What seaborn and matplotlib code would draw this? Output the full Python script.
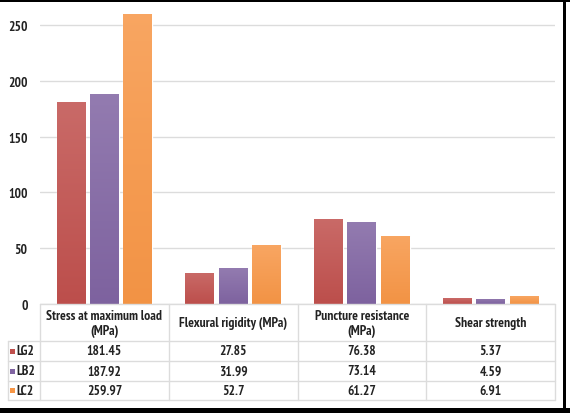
import numpy as np
import pandas as pd
import matplotlib
matplotlib.use("Agg")
import matplotlib.pyplot as plt
import matplotlib.colors as mcolors
import matplotlib.font_manager as fm
from matplotlib.textpath import TextPath
from matplotlib.patches import Rectangle
import seaborn as sns

categories = ["Stress at maximum load\n(MPa)", "Flexural rigidity (MPa)",
              "Puncture resistance\n(MPa)", "Shear strength"]
series = ["LG2", "LB2", "LC2"]
LG2 = [181.45, 27.85, 76.38, 5.37]
LB2 = [187.92, 31.99, 73.14, 4.59]
LC2 = [259.97, 52.7, 61.27, 6.91]
value_labels = {
    "LG2": ["181.45", "27.85", "76.38", "5.37"],
    "LB2": ["187.92", "31.99", "73.14", "4.59"],
    "LC2": ["259.97", "52.7", "61.27", "6.91"],
}
yticks = [0, 50, 100, 150, 200, 250]

colors = {"LG2": "#C0504D", "LB2": "#8064A2", "LC2": "#F79646"}

sns.set_theme(style="white")
plt.rcParams['font.family'] = ['Liberation Sans', 'DejaVu Sans']


def pick_font():
    prefs = ["liberation sans narrow", "arial narrow", "roboto condensed",
             "open sans condensed", "noto sans condensed", "dejavu sans condensed"]
    found = {}
    for f in fm.fontManager.ttflist:
        fn = f.fname.lower()
        nm = f.name.lower()
        if "italic" in fn or "oblique" in fn:
            continue
        isbold = (f.weight in (700, "bold")) or ("bold" in fn and "semibold" not in fn and "extrabold" not in fn)
        if not isbold:
            continue
        key = None
        if "narrow" in nm or "narrow" in fn:
            key = "liberation sans narrow" if "liberation" in fn else "arial narrow"
        elif "condensed" in nm or "condensed" in fn or f.stretch == "condensed":
            if "roboto" in fn:
                key = "roboto condensed"
            elif "opensans" in fn or "open sans" in nm:
                key = "open sans condensed"
            elif "noto" in fn:
                key = "noto sans condensed"
            elif "dejavu" in fn and "mono" not in fn and "serif" not in fn:
                key = "dejavu sans condensed"
        if key and key not in found:
            found[key] = f.fname
    for p in prefs:
        if p in found:
            return fm.FontProperties(fname=found[p])
    return fm.FontProperties(family="Liberation Sans", weight="bold")


FP = pick_font()
# size such that the header text width matches the reference (~106 px)
w_pt = TextPath((0, 0), "Flexural rigidity (MPa)", size=9, prop=FP).get_extents().width
w_px = w_pt * 100 / 72
FS = float(np.clip(9 * 106 / w_px, 7.6, 9.8))


def font(size=None):
    p = FP.copy()
    p.set_size(size or FS)
    return p


df = pd.DataFrame({
    "cat": categories * 3,
    "series": sum([[s] * 4 for s in series], []),
    "value": LG2 + LB2 + LC2,
})

W, H = 570, 414
fig = plt.figure(figsize=(W / 100, H / 100), dpi=100)
fig.patch.set_facecolor("white")


def fx(px):
    return px / W


def fy(py):
    return 1 - py / H


ax_left, ax_right = 40, 555
ax_top, ax_bot = 4, 305
ax = fig.add_axes([fx(ax_left), fy(ax_bot), fx(ax_right - ax_left), (ax_bot - ax_top) / H])

sns.barplot(data=df, x="cat", y="value", hue="series", order=categories,
            hue_order=series, palette=colors, width=0.78, gap=0.14,
            saturation=1, ax=ax, legend=False)

# soft vertical gradient on bars
for patch in list(ax.patches):
    base = np.array(mcolors.to_rgb(patch.get_facecolor()))
    light = base + (1 - base) * 0.15
    dark = base * 0.98
    grad = np.linspace(0, 1, 256)[:, None]
    img = light[None, None, :] * (1 - grad[..., None]) + dark[None, None, :] * grad[..., None]
    x0, y0 = patch.get_x(), patch.get_y()
    w, h = patch.get_width(), patch.get_height()
    im = ax.imshow(img, extent=[x0, x0 + w, y0, y0 + h], origin="upper",
                   aspect="auto", zorder=patch.get_zorder() + 0.1)
    im.set_clip_path(patch)

ax.set_xlim(-0.5, 3.5)
ymax = (ax_bot - ax_top) / (279 / 250)
ax.set_ylim(0, ymax)
ax.set_yticks(yticks)
ax.set_yticklabels([str(v) for v in yticks], color="#222222", fontproperties=font())
ax.tick_params(axis="y", length=0, pad=9)
ax.set_xticks([])
ax.set_xlabel("")
ax.set_ylabel("")
ax.yaxis.grid(True, color="#DCDCDC", linewidth=1)
ax.set_axisbelow(True)
for s in ax.spines.values():
    s.set_visible(False)

# data table
line_c = "#DCDCDC"
col_bounds = [40, 168.75, 297.5, 426.25, 555]
row_bounds = [305, 342, 362, 382, 401]
leg_left = 8


def hline(y, x0, x1):
    fig.add_artist(plt.Line2D([fx(x0), fx(x1)], [fy(y), fy(y)], color=line_c, lw=1))


def vline(x, y0, y1):
    fig.add_artist(plt.Line2D([fx(x), fx(x)], [fy(y0), fy(y1)], color=line_c, lw=1))


hline(row_bounds[0], col_bounds[0], col_bounds[-1])
for y in row_bounds[1:]:
    hline(y, leg_left, col_bounds[-1])
for x in col_bounds:
    vline(x, row_bounds[0], row_bounds[-1])
vline(leg_left, row_bounds[1], row_bounds[-1])

for i, cat in enumerate(categories):
    cx = (col_bounds[i] + col_bounds[i + 1]) / 2
    cy = 323.5
    fig.text(fx(cx), fy(cy), cat, ha="center", va="center",
             color="#222222", linespacing=1.2, fontproperties=font())

for r, s in enumerate(series):
    cy = (row_bounds[r + 1] + row_bounds[r + 2]) / 2
    fig.add_artist(Rectangle((fx(10), fy(cy + 2.5)), 5 / W, 5 / H,
                             transform=fig.transFigure, color=colors[s], lw=0))
    fig.text(fx(16), fy(cy), s, ha="left", va="center",
             color="#222222", fontproperties=font())
    for i in range(4):
        cx = (col_bounds[i] + col_bounds[i + 1]) / 2
        fig.text(fx(cx), fy(cy), value_labels[s][i], ha="center", va="center",
                 color="#222222", fontproperties=font())

# black frame
fig.add_artist(Rectangle((0, fy(3)), 1, 3 / H, transform=fig.transFigure, color="black", lw=0))
fig.add_artist(Rectangle((0, 0), 1, 5.5 / H, transform=fig.transFigure, color="black", lw=0))
fig.add_artist(Rectangle((fx(562.5), 0), 3.5 / W, 1, transform=fig.transFigure, color="black", lw=0))

fig.savefig("out.png", dpi=100)
